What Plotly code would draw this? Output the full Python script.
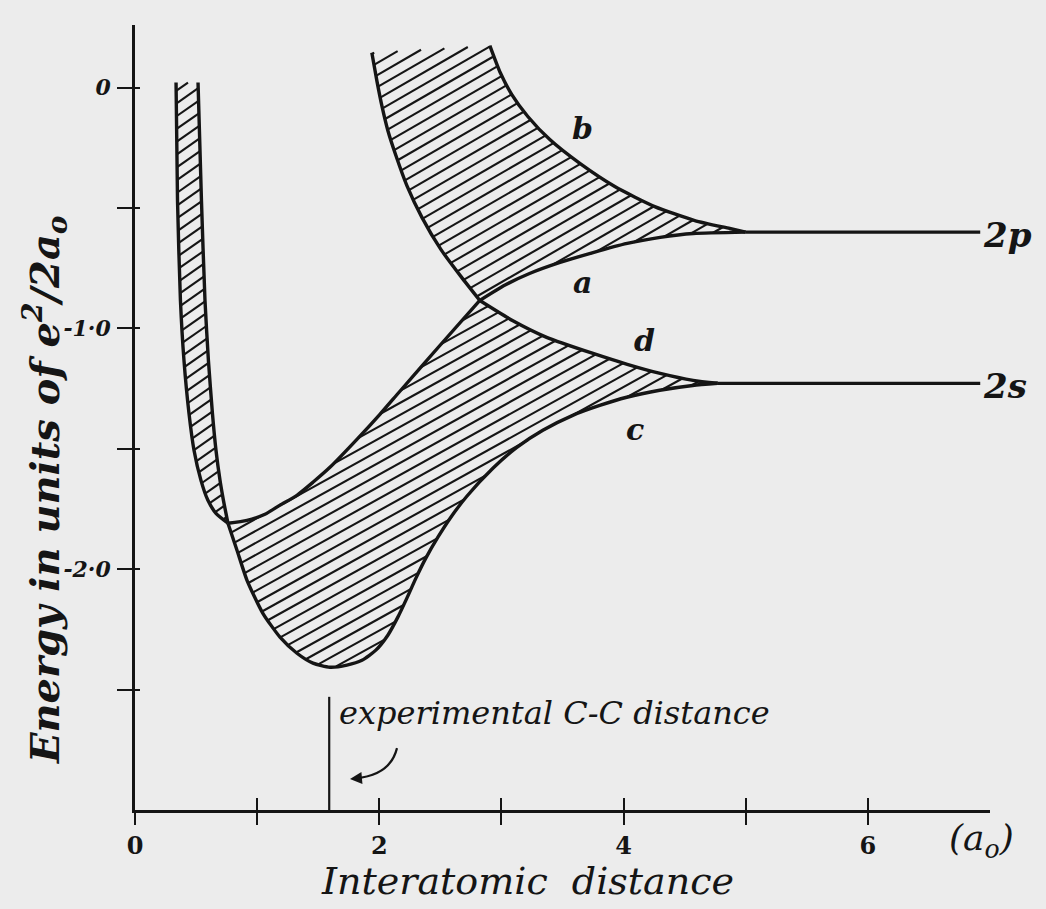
import numpy as np
import plotly.graph_objects as go

# ---------------- data ----------------
# upper edge of the 2p band (curve b)
b_x = [2.905, 2.987, 3.085, 3.216, 3.396, 3.642, 3.928, 4.255, 4.583, 4.869, 5.00]
b_e = [0.174, 0.066, -0.029, -0.120, -0.216, -0.315, -0.411, -0.494, -0.552, -0.585, -0.60]
# lower edge of the 2p band (curve a), right of the crossing
a_up_x = [2.823, 3.03, 3.23, 3.48, 3.75, 4.03, 4.30, 4.57, 5.00]
a_up_e = [-0.884, -0.82, -0.772, -0.726, -0.685, -0.647, -0.622, -0.606, -0.60]
# curve a, left of the crossing
a_low_x = [0.761, 0.917, 1.064, 1.187, 1.326, 1.457, 1.596, 1.817, 2.005, 2.169, 2.496, 2.823]
a_low_e = [-1.809, -1.797, -1.772, -1.734, -1.693, -1.639, -1.577, -1.461, -1.357, -1.261, -1.071, -0.884]
# upper edge of the 2s band (curve d), right of the crossing
d_low_x = [2.823, 3.09, 3.37, 3.75, 4.03, 4.30, 4.57, 4.771]
d_low_e = [-0.884, -0.967, -1.037, -1.104, -1.149, -1.187, -1.216, -1.228]
# curve d, left of the crossing
d_up_x = [1.939, 1.980, 2.021, 2.070, 2.136, 2.226, 2.349, 2.504, 2.668, 2.823]
d_up_e = [0.145, 0.029, -0.075, -0.178, -0.282, -0.407, -0.539, -0.672, -0.784, -0.884]
# lower edge of the 2s band (curve c)
c_x = [0.761, 0.835, 0.917, 1.047, 1.187, 1.326, 1.457, 1.596, 1.735, 1.858, 1.972, 2.070,
       2.152, 2.226, 2.300, 2.381, 2.480, 2.586, 2.717, 2.930, 3.126, 3.339, 3.584, 3.805,
       4.026, 4.296, 4.566, 4.771]
c_e = [-1.809, -1.921, -2.046, -2.183, -2.282, -2.349, -2.390, -2.407, -2.398, -2.378, -2.336, -2.274,
       -2.199, -2.120, -2.037, -1.954, -1.867, -1.784, -1.697, -1.581, -1.494, -1.423, -1.361, -1.320,
       -1.286, -1.257, -1.237, -1.228]
# steep walls at small distance
outer_x = [0.336, 0.348, 0.372, 0.401, 0.442, 0.483, 0.540, 0.597, 0.663, 0.761]
outer_e = [0.021, -0.469, -0.884, -1.133, -1.353, -1.506, -1.631, -1.714, -1.768, -1.809]
inner_x = [0.516, 0.544, 0.573, 0.601, 0.634, 0.663, 0.696, 0.724, 0.761]
inner_e = [0.021, -0.469, -0.884, -1.133, -1.353, -1.506, -1.631, -1.714, -1.809]
# atomic levels
level_names = ["2p", "2s"]
level_e = [-0.60, -1.228]
level_start = [5.00, 4.771]
level_end = 6.92
# curve letters
curve_names = ["b", "a", "d", "c"]
curve_lx = [3.66, 3.66, 4.17, 4.09]
curve_le = [-0.17, -0.81, -1.05, -1.42]
# experimental C-C distance marker
exp_distance = 1.59
exp_top = -2.53
# ticks
x_major = [0, 2, 4, 6]
x_major_text = ["0", "2", "4", "6"]
x_minor = [1, 3, 5]
y_major = [0, -1.0, -2.0]
y_major_text = ["0", "-1·0", "-2·0"]
y_minor = [-0.5, -1.5, -2.5]

# ---------------- layout geometry ----------------
W, H = 1046, 909
M = dict(l=135, r=56, t=25, b=99)
X_RANGE = [0, 7.0]
Y_RANGE = [-3.0, 0.26]
PW = W - M["l"] - M["r"]
PH = H - M["t"] - M["b"]
sx = PW / (X_RANGE[1] - X_RANGE[0])
sy = PH / (Y_RANGE[1] - Y_RANGE[0])

INK = "#151515"
BG = "#ececec"
SERIF = "DejaVu Serif"


def hatch(xs, ys, angle_deg=30.0, gap=10.5):
    """Parallel hatch segments clipped to polygon (xs, ys), computed in screen-scaled space."""
    P = np.column_stack([np.asarray(xs) * sx, np.asarray(ys) * sy])
    th = np.radians(angle_deg)
    d = np.array([np.cos(th), np.sin(th)])
    n = np.array([-np.sin(th), np.cos(th)])
    u = P @ n
    N = len(P)
    ox, oy = [], []
    for k in np.arange(np.floor(u.min() / gap), np.ceil(u.max() / gap) + 1):
        uk = k * gap + 0.5 * gap
        pts = []
        for i in range(N):
            j = (i + 1) % N
            if (u[i] < uk) != (u[j] < uk):
                t = (uk - u[i]) / (u[j] - u[i])
                pts.append(P[i] + t * (P[j] - P[i]))
        pts.sort(key=lambda p: p @ d)
        for p1, p2 in zip(pts[0::2], pts[1::2]):
            ox += [p1[0] / sx, p2[0] / sx, None]
            oy += [p1[1] / sy, p2[1] / sy, None]
    return ox, oy


fig = go.Figure()

# hatched regions
upper_poly_x = d_up_x + a_up_x[1:] + b_x[::-1]
upper_poly_e = d_up_e + a_up_e[1:] + b_e[::-1]
lower_poly_x = a_low_x + d_low_x[1:] + c_x[::-1]
lower_poly_e = a_low_e + d_low_e[1:] + c_e[::-1]
wall_poly_x = outer_x + inner_x[::-1]
wall_poly_e = outer_e + inner_e[::-1]

for px_, pe_, ang in [(upper_poly_x, upper_poly_e, 30.0), (lower_poly_x, lower_poly_e, 29.0),
                      (wall_poly_x, wall_poly_e, 35.0)]:
    hx, hy = hatch(px_, pe_, angle_deg=ang)
    fig.add_trace(go.Scatter(x=hx, y=hy, mode="lines", line=dict(color=INK, width=2.1),
                             hoverinfo="skip", showlegend=False))

# band edges
for cx, ce in [(b_x, b_e), (a_up_x, a_up_e), (a_low_x, a_low_e), (d_low_x, d_low_e),
               (d_up_x, d_up_e), (c_x, c_e), (outer_x, outer_e), (inner_x, inner_e)]:
    fig.add_trace(go.Scatter(x=cx, y=ce, mode="lines",
                             line=dict(color=INK, width=3.4, shape="spline", smoothing=0.6),
                             hoverinfo="skip", showlegend=False))

# atomic levels
for e0, x0 in zip(level_e, level_start):
    fig.add_trace(go.Scatter(x=[x0, level_end], y=[e0, e0], mode="lines",
                             line=dict(color=INK, width=3.2), hoverinfo="skip", showlegend=False))

# experimental distance marker
fig.add_trace(go.Scatter(x=[exp_distance, exp_distance], y=[Y_RANGE[0], exp_top], mode="lines",
                         line=dict(color=INK, width=2.2), hoverinfo="skip", showlegend=False))

# dummy traces for the overlay axes carrying the inner half of the ticks
fig.add_trace(go.Scatter(x=[None], y=[None], xaxis="x2", yaxis="y", showlegend=False, hoverinfo="skip"))
fig.add_trace(go.Scatter(x=[None], y=[None], xaxis="x", yaxis="y2", showlegend=False, hoverinfo="skip"))

# curved pointer towards the experimental line
ex = exp_distance
shapes = [dict(type="path", xref="x", yref="y",
               path=f"M {ex + 0.555},{-2.743} Q {ex + 0.50},{-2.855} {ex + 0.22},{-2.868}",
               line=dict(color=INK, width=2.2))]

ann = []
for name, lx, le in zip(curve_names, curve_lx, curve_le):
    ann.append(dict(x=lx, y=le, text=f"<b><i>{name}</i></b>", showarrow=False,
                    font=dict(family=SERIF, size=30, color=INK)))
for name, e0 in zip(level_names, level_e):
    ann.append(dict(x=level_end, y=e0, text=f"<b><i>{name}</i></b>", showarrow=False, xanchor="left",
                    yanchor="middle", xshift=1, yshift=-3,
                    font=dict(family=SERIF, size=34, color=INK)))
ann.append(dict(x=exp_distance, y=exp_top, text="<i>experimental C-C distance</i>", showarrow=False,
                xanchor="left", yanchor="top", xshift=8, yshift=5,
                font=dict(family=SERIF, size=32, color=INK)))
ann.append(dict(x=ex + 0.17, y=-2.871, ax=ex + 0.24, ay=-2.868,
                axref="x", ayref="y", text="", showarrow=True, arrowhead=2, arrowsize=1.2,
                arrowwidth=2, arrowcolor=INK))
ann.append(dict(xref="paper", yref="paper", x=(45 - M["l"]) / PW, y=(H - M["b"] - 490) / PH,
                xanchor="center", yanchor="middle",
                text="<b><i>Energy in units of e<sup>2</sup>/2a<sub>o</sub></i></b>",
                textangle=-90, showarrow=False, font=dict(family=SERIF, size=40, color=INK)))
ann.append(dict(xref="paper", yref="paper", x=(527 - M["l"]) / PW, y=-(881 - (H - M["b"])) / PH,
                xanchor="center", yanchor="middle",
                text="<i>Interatomic  distance</i>", showarrow=False,
                font=dict(family=SERIF, size=38, color=INK)))
ann.append(dict(x=6.93, xref="x", yref="paper", y=-(840 - (H - M["b"])) / PH,
                xanchor="center", yanchor="middle", text="<i>(a<sub>o</sub>)</i>", showarrow=False,
                font=dict(family=SERIF, size=36, color=INK)))

axis_common = dict(showgrid=False, zeroline=False, automargin=False, showline=True,
                   linecolor=INK, linewidth=2.6, tickcolor=INK, tickwidth=2)
fig.update_layout(
    width=W, height=H, margin=M, template="none",
    paper_bgcolor=BG, plot_bgcolor=BG, showlegend=False, shapes=shapes,
    xaxis=dict(range=X_RANGE, tickvals=x_major, ticktext=x_major_text, ticks="outside",
               ticklen=12, ticklabelstandoff=0,
               minor=dict(tickvals=x_minor, ticks="outside", ticklen=12, tickwidth=2, tickcolor=INK),
               tickfont=dict(family=SERIF, size=24, color=INK, weight="bold"), **axis_common),
    xaxis2=dict(range=X_RANGE, overlaying="x", anchor="y", side="bottom", tickvals=x_major + x_minor,
                ticks="inside", ticklen=12, tickwidth=2, tickcolor=INK, showticklabels=False,
                showline=False, showgrid=False, zeroline=False),
    yaxis=dict(range=Y_RANGE, tickvals=y_major, ticktext=y_major_text, ticks="outside",
               ticklen=15, ticklabelstandoff=2,
               minor=dict(tickvals=y_minor, ticks="outside", ticklen=15, tickwidth=2, tickcolor=INK),
               tickfont=dict(family=SERIF, size=22, color=INK, weight="bold", style="italic"),
               **axis_common),
    yaxis2=dict(range=Y_RANGE, overlaying="y", anchor="x", side="left", tickvals=y_major + y_minor,
                ticks="inside", ticklen=5, tickwidth=2, tickcolor=INK, showticklabels=False,
                showline=False, showgrid=False, zeroline=False),
    annotations=ann,
)

fig.write_html("out.html", config={"displayModeBar": False},
               post_script="document.body.style.margin='0px';")
